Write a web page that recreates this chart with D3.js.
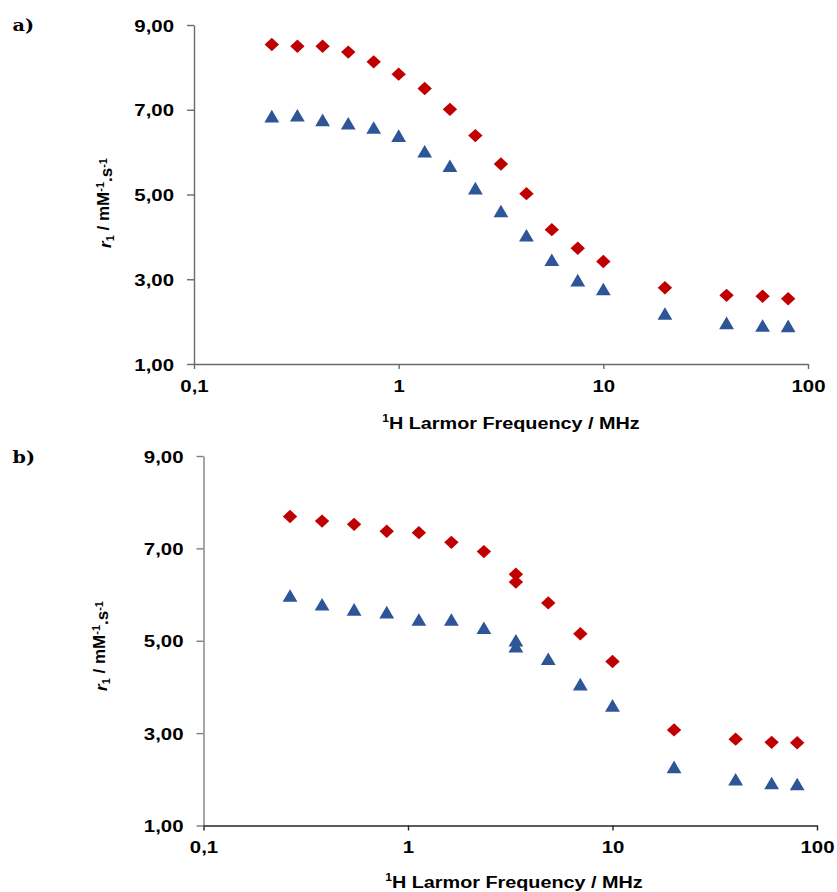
<!DOCTYPE html>
<html>
<head>
<meta charset="utf-8">
<script src="https://cdn.jsdelivr.net/npm/d3@7"></script>
<style>
  html, body { margin: 0; padding: 0; background: #ffffff; }
  svg { display: block; }
</style>
</head>
<body>
<script>
// ---------------- DATA ----------------
// Panel a)
const freqA = [0.24, 0.32, 0.425, 0.567, 0.755, 1.0, 1.34, 1.78, 2.37, 3.16, 4.21, 5.6, 7.5, 10, 20, 40, 60, 80];
const redA  = [8.54, 8.50, 8.50, 8.36, 8.13, 7.84, 7.50, 7.01, 6.39, 5.72, 5.02, 4.17, 3.73, 3.42, 2.80, 2.62, 2.60, 2.54];
const blueA = [6.85, 6.87, 6.76, 6.68, 6.58, 6.39, 6.02, 5.68, 5.15, 4.61, 4.04, 3.46, 2.98, 2.77, 2.19, 1.97, 1.91, 1.90];
// Panel b)
const freqB = [0.265, 0.38, 0.545, 0.787, 1.13, 1.63, 2.35, 3.37, 3.37, 4.85, 6.96, 10, 20, 40, 60, 80];
const redB  = [7.69, 7.59, 7.52, 7.37, 7.34, 7.13, 6.93, 6.44, 6.27, 5.82, 5.15, 4.55, 3.07, 2.87, 2.80, 2.79];
const blueB = [5.98, 5.79, 5.68, 5.62, 5.46, 5.46, 5.28, 5.01, 4.88, 4.61, 4.06, 3.60, 2.27, 2.00, 1.92, 1.90];
// Axes
const yTicks = [1, 3, 5, 7, 9];
const xTicks = [0.1, 1, 10, 100];
const xTickLabels = ["0,1", "1", "10", "100"];
const panelLabels = ["a)", "b)"];

// ---------------- DRAW ----------------
const W = 837, H = 892;
const svg = d3.select("body").append("svg").attr("width", W).attr("height", H);

const SX = 1.2; // horizontal stretch of text seen in reference
const redColor = "#C00000", blueColor = "#2E5597";

const diamond = { draw(ctx) { ctx.moveTo(0, -6.7); ctx.lineTo(7.2, 0); ctx.lineTo(0, 6.7); ctx.lineTo(-7.2, 0); ctx.closePath(); } };
const triangle = { draw(ctx) { ctx.moveTo(0, -6.3); ctx.lineTo(7.4, 6.3); ctx.lineTo(-7.4, 6.3); ctx.closePath(); } };

const panels = [
  { label: panelLabels[0], freq: freqA, red: redA, blue: blueA,
    left: 194, right: 808, top: 25, bottom: 364, yAxisColor: "#6a6a6a", xAxisColor: "#6a6a6a",
    labelY: 31, yTitleX: 111, yTitleY: 203, xTitleX: 511, xTitleY: 426 },
  { label: panelLabels[1], freq: freqB, red: redB, blue: blueB,
    left: 203.5, right: 817, top: 456, bottom: 825.5, yAxisColor: "#7f7f7f", xAxisColor: "#262626",
    labelY: 463, yTitleX: 107, yTitleY: 646, xTitleX: 514, xTitleY: 885 }
];

panels.forEach(p => {
  const x = d3.scaleLog().domain([0.1, 100]).range([p.left, p.right]);
  const y = d3.scaleLinear().domain([1, 9]).range([p.bottom, p.top]);
  const g = svg.append("g");

  // Y axis
  const yAxis = d3.axisLeft(y).tickValues(yTicks).tickSize(7).tickSizeOuter(0)
    .tickFormat(d => d3.format(".2f")(d).replace(".", ","));
  const gy = g.append("g").attr("transform", `translate(${p.left},0)`).call(yAxis);
  gy.select(".domain").attr("stroke", p.yAxisColor).attr("stroke-width", 1.4);
  gy.selectAll(".tick line").attr("stroke", p.yAxisColor).attr("stroke-width", 1.4);
  gy.selectAll(".tick text")
    .attr("x", -20 / SX).attr("dy", "0.36em")
    .attr("transform", `scale(${SX},1)`)
    .attr("fill", "#000")
    .style("font-family", "'Liberation Sans', Arial, sans-serif")
    .style("font-weight", "bold").style("font-size", "17px");

  // X axis
  const xAxis = d3.axisBottom(x).tickValues(xTicks).tickSize(5).tickSizeOuter(0)
    .tickFormat((d, i) => xTickLabels[i]);
  const gx = g.append("g").attr("transform", `translate(0,${p.bottom})`).call(xAxis);
  gx.select(".domain").attr("stroke", p.xAxisColor).attr("stroke-width", 1.4);
  gx.selectAll(".tick line").attr("stroke", p.xAxisColor).attr("stroke-width", 1.4);
  gx.selectAll(".tick text")
    .attr("y", 28).attr("dy", 0)
    .attr("transform", `scale(${SX},1)`)
    .attr("fill", "#000")
    .style("font-family", "'Liberation Sans', Arial, sans-serif")
    .style("font-weight", "bold").style("font-size", "17px");

  // Markers
  g.append("g").selectAll("path.red").data(p.freq.map((f, i) => [f, p.red[i]]))
    .join("path").attr("class", "red")
    .attr("d", d3.symbol(diamond)())
    .attr("transform", d => `translate(${x(d[0])},${y(d[1])})`)
    .attr("fill", redColor);
  g.append("g").selectAll("path.blue").data(p.freq.map((f, i) => [f, p.blue[i]]))
    .join("path").attr("class", "blue")
    .attr("d", d3.symbol(triangle)())
    .attr("transform", d => `translate(${x(d[0])},${y(d[1])})`)
    .attr("fill", blueColor);

  // Panel label
  g.append("text")
    .attr("transform", `translate(12.5,${p.labelY}) scale(${SX},1)`)
    .style("font-family", "'DejaVu Serif', 'Liberation Serif', serif")
    .style("font-weight", "bold").style("font-size", "16px")
    .text(p.label);

  // X title
  const xt = g.append("text")
    .attr("transform", `translate(${p.xTitleX},${p.xTitleY}) scale(${SX},1)`)
    .attr("text-anchor", "middle")
    .style("font-family", "'Liberation Sans', Arial, sans-serif")
    .style("font-weight", "bold").style("font-size", "16.5px");
  xt.append("tspan").attr("dy", "-0.4em").style("font-size", "10px").text("1");
  xt.append("tspan").attr("dy", "0.4em").text("H Larmor Frequency / MHz");

  // Y title
  const yt = g.append("text")
    .attr("transform", `translate(${p.yTitleX},${p.yTitleY}) rotate(-90)`)
    .attr("text-anchor", "middle")
    .style("font-family", "'Liberation Sans', Arial, sans-serif")
    .style("font-weight", "bold").style("font-size", "17px");
  yt.append("tspan").style("font-style", "italic").text("r");
  yt.append("tspan").attr("dy", "0.3em").style("font-size", "11px").text("1");
  yt.append("tspan").attr("dy", "-0.3em").text(" / mM");
  yt.append("tspan").attr("dy", "-0.45em").style("font-size", "11px").text("-1");
  yt.append("tspan").attr("dy", "0.45em").text(".s");
  yt.append("tspan").attr("dy", "-0.45em").style("font-size", "11px").text("-1");
});
</script>
</body>
</html>
